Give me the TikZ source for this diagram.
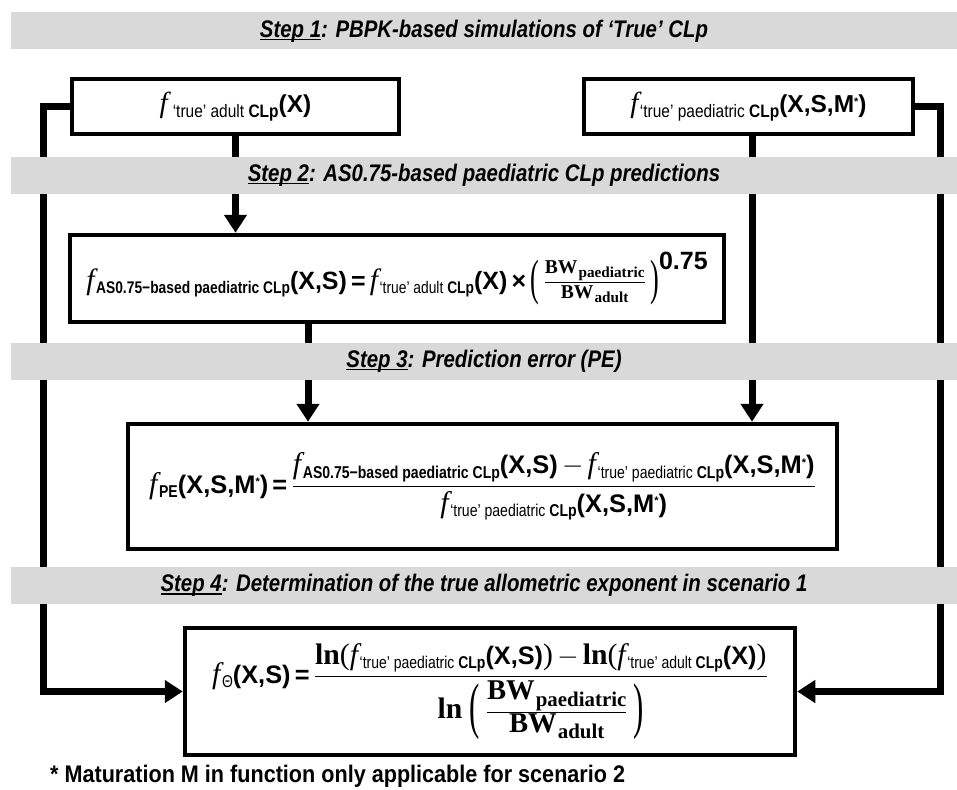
\documentclass[tikz,border=0pt]{standalone}
\usepackage{amsmath}
\usepackage{graphicx}
\usepackage{fontspec}
\usetikzlibrary{arrows.meta}
\newfontfamily\tnrfont{Liberation Serif}
\newfontfamily\narfont[FakeStretch=0.82]{Liberation Sans}
\newfontfamily\narbfont[FakeStretch=0.86]{Liberation Sans}
\newfontfamily\bannerfont[FakeStretch=0.85]{Liberation Sans}
\newfontfamily\footfont[FakeStretch=0.9]{Liberation Sans}
\newfontfamily\arifont{Liberation Sans}
\definecolor{bannergray}{RGB}{217,217,217}
\pgfdeclarelayer{bg}
\pgfsetlayers{bg,main}

\newcommand\ffn{{\tnrfont\itshape\fontsize{27}{27}\selectfont f}}
\newcommand\sbs[1]{\raisebox{-4pt}{\narfont\fontsize{15.5}{15.5}\selectfont #1}}
\newcommand\agg[1]{{\arifont\bfseries\fontsize{23}{23}\selectfont #1}}
\newcommand\mst{M\raisebox{7pt}{\fontsize{10}{10}\selectfont *}}
\newcommand\fnc[2]{\ffn\kern1.5pt\sbs{#1}\agg{#2}}
% larger variant for the step-1 boxes
\newcommand\ffb{{\tnrfont\itshape\fontsize{29}{29}\selectfont f}}
\newcommand\sbb[1]{\raisebox{-4.5pt}{\narbfont\fontsize{18}{18}\selectfont #1}}
\newcommand\agb[1]{{\arifont\bfseries\fontsize{24.5}{24.5}\selectfont #1}}
\newcommand\mstb{M\raisebox{7.5pt}{\fontsize{11}{11}\selectfont *}}
\newcommand\fncb[3]{\ffb\kern#1\sbb{#2}\agb{#3}}
\newcommand\tadult{‘true’ adult \textbf{CLp}}
\newcommand\tpaed{‘true’ paediatric \textbf{CLp}}
\newcommand\asb{\textbf{AS0.75−based paediatric CLp}}
\newcommand\bwx[3]{\mbox{\tnrfont\bfseries\fontsize{#1}{#1}\selectfont BW\kern1pt\raisebox{-0.22em}{\fontsize{#2}{#2}\selectfont #3}}}
\newcommand\lnx{{\tnrfont\bfseries\fontsize{27}{27}\selectfont ln}}
\newcommand\lp{{\tnrfont\fontsize{27}{27}\selectfont (}}
\newcommand\rp{{\tnrfont\fontsize{27}{27}\selectfont )}}
\newcommand\tallp[3]{\vcenter{\hbox{\scalebox{1}[#2]{\tnrfont\fontsize{#1}{#1}\selectfont #3}}}}
\newsavebox\ulbox
\newcommand\stepul[1]{\sbox\ulbox{#1}\rlap{\rule[-3pt]{\wd\ulbox}{1.6pt}}\usebox\ulbox}

\begin{document}
\begin{tikzpicture}[x=1pt,y=-1pt,
  box/.style={draw=black, line width=4.5pt, fill=white, inner sep=0pt, font=\fontsize{23}{27}\selectfont},
  banner/.style={fill=bannergray, inner sep=0pt, minimum width=946pt, minimum height=37pt,
     font=\bannerfont\bfseries\itshape\fontsize{24}{24}\selectfont},
  conn/.style={line width=7pt},
  arr/.style={conn, -{Triangle[length=18pt,width=22pt]}}]
\useasboundingbox (0,0) rectangle (957,789);

% boxes
\node[box, minimum width=327pt, minimum height=55pt] (A) at (235.5,106.5) {\fncb{5pt}{\tadult}{(X)}};
\node[box, minimum width=329pt, minimum height=55pt] (B) at (748.5,106.5) {\fncb{1.5pt}{\tpaed}{(X,S,\mstb)}};
\node[box, minimum width=654pt, minimum height=87pt] (C) at (397,278.5)
  {\scalebox{1.087}{\fnc{\asb}{(X,S)}\,\agg{=}\,\fnc{\tadult}{(X)}\,\agg{×}\,$\tallp{24}{1.9}{(}\mkern3mu\genfrac{}{}{0.8pt}{1}{\bwx{18}{14}{paediatric}}{\bwx{18}{14}{adult}}\mkern3mu\tallp{24}{1.9}{)}$\raisebox{18pt}{\agg{0.75}}}};
\node[box, minimum width=709pt, minimum height=125pt] (D) at (482.5,486.5)
  {\scalebox{1.105}{\fnc{\textbf{PE}}{(X,S,\mst)}\,\agg{=}\,$\genfrac{}{}{1.2pt}{0}{\mbox{\fnc{\asb}{(X,S)}\,$-$\,\fnc{\tpaed}{(X,S,\mst)}}}{\mbox{\fnc{\tpaed}{(X,S,\mst)}}}$}};
\node[box, minimum width=610pt, minimum height=127pt] (E) at (490,691.5)
  {\scalebox{1.1}{\fnc{Θ}{(X,S)}\,\agg{=}\,$\genfrac{}{}{1.2pt}{0}{\mbox{\lnx\lp\fnc{\tpaed}{(X,S)}\rp\,$-$\,\lnx\lp\fnc{\tadult}{(X)}\rp}}{\mbox{\lnx\;$\tallp{28}{2.0}{(}\mkern4mu\genfrac{}{}{0.8pt}{1}{\bwx{26}{19}{paediatric}}{\bwx{26}{19}{adult}}\mkern4mu\tallp{28}{2.0}{)}$}}$}};

% banners
\node[banner] (s1) at (484,31) {\stepul{Step 1}: PBPK-based simulations of ‘True’ CLp};
\node[banner] (s2) at (484,175) {\stepul{Step 2}: AS0.75-based paediatric CLp predictions};
\node[banner] (s3) at (484,361) {\stepul{Step 3}: Prediction error (PE)};
\node[banner] (s4) at (484,585.5) {\stepul{Step 4}: Determination of the true allometric exponent in scenario 1};

% footnote
\node[anchor=west, inner sep=0pt, font=\footfont\bfseries\fontsize{24}{24}\selectfont] (fn) at (50,776) {* Maturation M in function only applicable for scenario 2};

% connectors
\coordinate (lc) at (43,400);
\coordinate (rc) at (940,400);
\coordinate (cx) at (308,0);
\coordinate (bx) at (752,0);
\begin{pgfonlayer}{bg}
\draw[arr] (A.south) -- (A.south |- C.north);
\draw[arr] (C.south -| cx) -- (D.north -| cx);
\draw[arr] (B.south -| bx) -- (D.north -| bx);
\draw[arr] (A.west) -| (lc) |- (E.west);
\draw[arr] (B.east) -| (rc) |- (E.east);
\end{pgfonlayer}
\end{tikzpicture}
\end{document}
